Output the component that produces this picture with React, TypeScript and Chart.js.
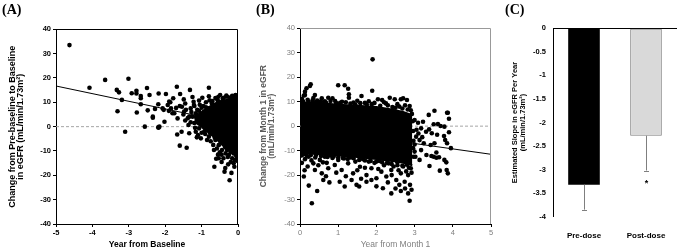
import React, { useEffect, useRef } from 'react';
import { Chart, registerables } from 'chart.js';
Chart.register(...registerables);

const FONT = "'Liberation Sans', Arial, Helvetica, sans-serif";

// ---------- Panel A data ----------
const aXTicks = [-5, -4, -3, -2, -1, 0];
const aYTicks = [-40, -30, -20, -10, 0, 10, 20, 30, 40];
const aPoints: number[][] = [
  [-4.63, 33.5], [-4.08, 16.0], [-3.65, 19.2], [-3.01, 19.7], [-3.33, 15.1], [-3.27, 14.1], [-3.19, 11.0],
  [-3.31, 6.3], [-3.1, -2.1], [-2.92, 13.7], [-2.79, 14.7], [-2.79, 13.6], [-2.67, 12.6], [-2.67, 11.7],
  [-2.5, 15.9], [-2.43, 13.0], [-2.78, 5.8], [-2.67, 9.2], [-2.48, 6.7], [-2.34, 3.7], [-2.56, 0.0],
  [-2.28, 7.3], [-2.18, 13.6], [-2.19, 9.2], [-2.19, -0.3], [-1.98, 13.4], [-2.04, 6.9], [-2.02, 2.0],
  [-1.86, 10.0], [-1.7, 7.7], [-1.68, 16.4], [-1.32, 15.1], [-0.8, 16.0], [-1.78, 11.7], [-1.59, 13.4],
  [-1.89, 10.3], [-1.49, 11.2], [-1.25, 12.2], [-0.98, 11.9], [-0.8, 12.5], [-1.07, 10.7], [-0.54, 12.3],
  [-0.49, 13.0], [-2.34, 4.1], [-1.66, 3.4], [-1.43, 6.9], [-1.34, 4.1], [-2.16, 0.0], [-1.36, 0.7],
  [-1.16, -2.1], [-1.6, -7.8], [-1.41, -8.7], [-1.67, -3.2], [-1.55, -2.1], [-1.34, -2.7], [-1.13, -4.4],
  [-1.02, -4.8], [-0.66, -9.6], [-0.65, -16.5], [-0.53, -13.0], [-0.6, -13.2], [-0.37, -18.5], [-0.23, -22.0],
  [-0.1, -16.5], [-2.18, -0.4], [-2.07, 7.5], [-1.93, 8.9], [-1.84, 7.5], [-1.8, 5.5], [-1.54, 8.2],
  [-1.48, 6.2], [-1.3, 7.5], [-1.21, 8.9], [-1.12, 6.9],
  [-0.57, 11.2], [-0.48, 10.0], [-0.39, 11.9], [-0.16, 12.7], [-0.09, 12.3], [-0.05, 11.9], [-0.66, 8.9],
  [-0.8, 7.5], [-0.93, 6.2], [-1.07, 6.5], [-1.16, 5.5], [-1.25, 4.1], [-1.07, -0.7], [-0.93, -2.1],
  [-0.8, -4.1], [-0.62, -5.5], [-0.53, -7.6], [-0.44, -9.6], [-0.34, -11.0], [-0.25, -11.7], [-0.16, -13.0],
  [-0.09, -13.7], [-0.3, -9.6], [-0.02, -12.5], [-0.02, 12.0], [-0.05, -12.0], [-1.2, 1.5], [-1.1, 3.0],
  [-0.95, 8.5], [-0.7, 10.5], [-0.3, 12.3], [-0.2, -10.5], [-0.7, -3.0], [-1.0, -2.5], [-0.85, -5.5],
  [-0.45, -11.5], [-0.12, -11.0], [-1.45, 2.5], [-1.5, 5.0], [-1.6, 8.5], [-1.75, 5.5], [-1.9, 6.5],
  [-1.2, 8.5], [-1.05, 9.0], [-0.88, 10.0], [-0.62, 11.8], [-0.25, 9.0], [-0.05, -8.0], [-0.08, 10.0],
  [-1.45, 9.5], [-1.38, 3.5], [-1.28, 6.0], [-1.22, 10.2], [-1.18, -0.5], [-1.1, -3.5], [-1.05, 2.0],
  [-0.98, 4.2], [-0.92, -0.5], [-0.88, 8.0], [-0.82, -1.5], [-0.78, 10.8], [-0.75, -6.0], [-0.72, 9.5],
  [-0.68, -7.5], [-0.64, -4.5], [-0.58, -9.0], [-0.55, 10.5], [-0.5, -10.5], [-0.47, -6.5], [-0.42, 11.5],
  [-0.4, -13.0], [-0.35, -8.5], [-0.32, 12.8], [-0.28, -12.5], [-0.22, 12.0], [-0.2, -14.5], [-0.14, 11.8],
  [-0.12, -15.0], [-0.07, 13.0], [-0.03, -14.0], [-0.03, 12.8], [-0.27, -15.5], [-0.45, -14.5],
  [-0.55, -11.5], [-0.35, -17.0], [-0.18, -19.0], [-0.07, -11.0], [-1.3, 1.8], [-1.15, 4.0], [-1.0, 7.8],
  [-0.85, 2.5], [-0.9, -3.0], [-0.76, -2.8], [-0.7, 5.5], [-0.6, 7.0],
];
const aCloudTop: number[][] = [
  [-1.2, 4.0], [-1.0, 6.0], [-0.8, 8.0], [-0.6, 9.8], [-0.4, 10.8], [-0.2, 11.3], [0, 11.5],
];
const aCloudBottom: number[][] = [
  [-1.2, 2.0], [-1.0, 0.0], [-0.8, -2.5], [-0.6, -5.0], [-0.4, -8.0], [-0.2, -10.5], [0, -12.0],
];
const aFit: number[][] = [[-5, 16.7], [0, 1.0]];
const aZero: number[][] = [[-5, 0], [0, 0]];

// ---------- Panel B data ----------
const bXTicks = [0, 1, 2, 3, 4, 5];
const bYTicks = [-40, -30, -20, -10, 0, 10, 20, 30, 40];
const bPoints: number[][] = [
  // upper edge and outliers
  [0.05, 11.2], [0.1, 12.5], [0.13, 14.1], [0.17, 15.5], [0.26, 16.4], [0.13, 12.7], [0.2, 10.8], [0.28, 17.1],
  [0.35, 11.5], [0.39, 12.7], [0.45, 10.5], [0.57, 11.4], [0.65, 10.2], [0.74, 11.6], [0.85, 11.4], [0.92, 10.3],
  [1.0, 16.7], [1.17, 16.7], [1.26, 15.3], [1.28, 13.0], [1.28, 11.6], [1.1, 10.0], [1.2, 9.8], [1.4, 9.6],
  [1.5, 10.4], [1.61, 12.3], [1.7, 9.5], [1.8, 10.2], [1.89, 14.5], [1.9, 27.3], [1.95, 9.5], [2.04, 11.0],
  [2.15, 10.7], [2.25, 9.3], [2.35, 11.6], [2.48, 11.0], [2.55, 9.0], [2.64, 11.0], [2.7, 11.4], [2.8, 10.7],
  [2.87, 8.2], [2.75, 8.5], [2.9, 6.5], [2.6, 8.0], [2.3, 8.5], [0.5, 10.0],
  [0.08, 10.2], [0.22, 10.0], [0.33, 10.6], [0.42, 9.8], [0.55, 10.1], [0.68, 9.6], [0.8, 10.3], [0.95, 9.4],
  [1.05, 9.5], [1.32, 9.2], [1.45, 8.8], [1.58, 9.4], [1.75, 8.7], [1.88, 9.0], [2.1, 8.3], [2.2, 9.8],
  [2.42, 7.8], [2.5, 7.5], [2.68, 7.2], [2.82, 6.8], [2.93, 5.0], [2.95, 2.0], [2.96, -2.0], [2.97, -6.0],
  [2.96, -9.0], [2.97, -12.5],
  // right tail
  [3.52, 6.3], [3.85, 5.5], [3.87, 5.5], [3.37, 4.6], [3.22, 1.8], [3.09, 1.4], [3.5, 0.8], [3.61, 0.9],
  [3.68, 0.06], [3.78, -0.2], [3.38, -1.3], [3.17, -0.9], [3.3, -2.3], [3.45, -2.9], [3.59, -3.5], [3.77, -4.0],
  [3.8, -5.7], [3.85, -7.0], [3.52, -7.0], [3.42, -7.7], [3.24, -7.0], [3.13, -5.7], [3.04, -4.3], [3.17, -9.8],
  [3.31, -11.8], [3.44, -12.2], [3.5, -12.5], [3.57, -12.9], [3.64, -12.7], [3.57, -10.8], [3.78, -13.8],
  [3.83, -14.8], [3.39, -16.3], [3.66, -18.2], [3.84, -17.9], [3.87, -19.3], [3.0, -10.4], [3.02, -12.5],
  [3.13, -13.8], [3.0, 2.5], [3.05, -1.5], [3.1, -3.0], [3.0, -7.5], [3.2, -4.5], [3.9, -2.5], [3.95, -9.0],
  [3.9, 3.0],
  // lower edge and outliers
  [0.05, -11.8], [0.18, -12.2], [0.28, -11.9], [0.4, -12.8], [0.55, -12.2], [0.72, -12.6], [0.88, -12.4],
  [1.0, -12.8], [1.12, -13.0], [1.25, -13.4], [1.4, -13.1], [1.55, -13.8], [1.7, -14.0], [1.85, -14.2],
  [2.0, -14.5], [2.15, -14.8], [2.28, -15.0], [2.4, -15.5], [2.55, -16.0], [2.68, -16.2], [2.85, -17.0],
  [0.04, -12.0], [0.1, -20.6], [0.13, -13.5], [0.22, -12.5], [0.23, -24.3], [0.31, -31.5], [0.35, -15.2],
  [0.39, -17.9], [0.45, -26.5], [0.52, -13.8], [0.57, -19.3], [0.61, -22.0], [0.65, -12.5], [0.74, -17.2],
  [0.77, -23.0], [0.85, -13.0], [0.91, -15.9], [1.04, -22.7], [1.09, -17.9], [1.15, -13.2], [1.17, -24.7],
  [1.26, -15.2], [1.32, -12.8], [1.39, -19.3], [1.48, -24.0], [1.55, -24.7], [1.57, -16.6], [1.65, -13.5],
  [1.74, -20.0], [1.74, -22.7], [1.8, -14.5], [1.87, -17.2], [1.87, -22.0], [1.95, -15.0], [2.0, -21.3],
  [2.0, -24.6], [2.08, -14.2], [2.13, -18.6], [2.17, -25.4], [2.2, -16.0], [2.26, -20.6], [2.32, -15.2],
  [2.39, -17.9], [2.39, -27.5], [2.45, -16.5], [2.52, -22.0], [2.58, -18.0], [2.64, -19.3], [2.64, -26.5],
  [2.7, -16.5], [2.74, -22.7], [2.78, -18.5], [2.83, -20.0], [2.83, -27.5], [2.87, -30.5], [2.9, -17.2],
  [2.88, -24.0], [0.2, -16.5], [0.3, -14.0], [0.48, -16.0], [0.6, -14.8], [0.7, -15.0], [0.95, -19.0],
  [1.0, -13.8], [1.2, -20.5], [1.45, -14.5], [1.5, -18.0], [1.6, -21.5], [1.7, -17.0], [2.05, -17.5],
  [2.3, -23.0], [2.55, -14.8], [2.6, -24.0], [2.8, -15.8], [0.05, -15.0], [0.15, -11.5], [0.42, -11.8],
  [0.8, -12.0], [2.92, -19.0], [2.92, -26.0], [2.75, -25.5], [2.5, -25.5], [2.4, -20.0], [1.35, -22.0],
  [0.68, -20.5], [0.12, -18.0],
];
const bCloudTop: number[][] = [
  [0.01, 9.5], [0.3, 9.8], [0.6, 9.4], [1.0, 8.8], [1.5, 8.3], [2.0, 7.8], [2.4, 6.8], [2.7, 5.8], [2.94, 4.5],
];
const bCloudBottom: number[][] = [
  [0.01, -11.0], [0.3, -11.3], [0.6, -11.5], [1.0, -12.0], [1.5, -12.6], [2.0, -13.4], [2.4, -14.2], [2.7, -15.0], [2.94, -16.0],
];
const bFit: number[][] = [[0, -0.5], [5, -11.5]];
const bZero: number[][] = [[0, 0], [5, 0]];

// ---------- Panel C data ----------
const cCategories = ['Pre-dose', 'Post-dose'];
const cSlopes = [-3.32, -2.28];
const cErrLow = [-3.85, -3.02];
const cSignif = ['', '*'];
const cYTicks = [0, -0.5, -1, -1.5, -2, -2.5, -3, -3.5, -4];

const xy = (arr: number[][]) => arr.map(([x, y]) => ({ x, y }));

const framePlugin = (color: string) => ({
  id: 'frame',
  afterDatasetsDraw(chart: any) {
    const { ctx, chartArea } = chart;
    const { left, top, right, bottom } = chartArea;
    ctx.save();
    ctx.strokeStyle = color;
    ctx.lineWidth = 1;
    ctx.beginPath();
    ctx.moveTo(Math.round(left), Math.round(top) + 0.5);
    ctx.lineTo(Math.round(right) - 0.5, Math.round(top) + 0.5);
    ctx.lineTo(Math.round(right) - 0.5, Math.round(bottom));
    ctx.stroke();
    ctx.restore();
  },
});

function scatterConfig(opts: any) {
  const {
    points, cloudTop, cloudBottom, fit, zero, xTicks, yTicks, xMin, xMax,
    yTitle, xTitle, tickColor, titleColor, yTitleColor, tickWeight, xTitleWeight,
    yWidth, yTitlePad, padTop, padRight, frameColor, yTitleSize, yTitleLH,
  } = opts;
  return {
    type: 'line',
    data: {
      datasets: [
        { data: xy(zero), borderColor: '#a6a6a6', borderWidth: 1, borderDash: [3, 2], pointRadius: 0, fill: false, order: 6 },
        { data: xy(fit), borderColor: '#000', borderWidth: 1, pointRadius: 0, fill: false, order: 5 },
        { data: xy(cloudTop), borderColor: '#000', backgroundColor: '#000', borderWidth: 2, pointRadius: 0, fill: '+1', order: 4 },
        { data: xy(cloudBottom), borderColor: '#000', borderWidth: 2, pointRadius: 0, fill: false, order: 3 },
        { data: xy(points), showLine: false, pointRadius: 2.3, pointBorderWidth: 0, pointBackgroundColor: '#000', pointStyle: 'circle', order: 1 },
      ],
    },
    options: {
      responsive: false,
      animation: false,
      events: [],
      layout: { padding: { top: padTop, right: padRight, left: 0, bottom: 0 } },
      plugins: { legend: { display: false }, tooltip: { enabled: false } },
      elements: { line: { tension: 0 } },
      scales: {
        x: {
          type: 'linear', min: xMin, max: xMax,
          afterBuildTicks: (s: any) => { s.ticks = xTicks.map((v: number) => ({ value: v })); },
          ticks: { color: tickColor, font: { family: FONT, size: 7.5, weight: tickWeight }, padding: 1, maxRotation: 0, autoSkip: false },
          grid: { display: true, drawOnChartArea: false, drawTicks: true, tickLength: 3, color: '#000' },
          border: { display: true, color: '#000', width: 1 },
          title: { display: true, text: xTitle, color: titleColor, font: { family: FONT, size: 8.5, weight: xTitleWeight }, padding: { top: 0, bottom: 2 } },
          afterFit: (s: any) => { s.height = 28; },
        },
        y: {
          type: 'linear', min: -40, max: 40,
          afterBuildTicks: (s: any) => { s.ticks = yTicks.map((v: number) => ({ value: v })); },
          ticks: { color: tickColor, font: { family: FONT, size: 7.5, weight: tickWeight }, padding: 2 },
          grid: { display: true, drawOnChartArea: false, drawTicks: true, tickLength: 3, color: '#000' },
          border: { display: true, color: '#000', width: 1 },
          title: { display: true, text: yTitle, color: yTitleColor, font: { family: FONT, size: yTitleSize, weight: 'bold', lineHeight: yTitleLH }, padding: { top: yTitlePad, bottom: 0 } },
          afterFit: (s: any) => { s.width = yWidth; },
        },
      },
    },
    plugins: [framePlugin(frameColor)],
  };
}

const errorBarPlugin = {
  id: 'errbars',
  afterDatasetsDraw(chart: any) {
    const { ctx } = chart;
    const meta = chart.getDatasetMeta(0);
    const y = chart.scales.y;
    ctx.save();
    meta.data.forEach((bar: any, i: number) => {
      const x = Math.round(bar.x) + 0.5;
      const y0 = y.getPixelForValue(cSlopes[i]);
      const y1 = y.getPixelForValue(cErrLow[i]);
      ctx.strokeStyle = '#7f7f7f';
      ctx.lineWidth = 1;
      ctx.beginPath();
      ctx.moveTo(x, y0);
      ctx.lineTo(x, y1);
      ctx.moveTo(x - 2.5, Math.round(y1) + 0.5);
      ctx.lineTo(x + 2.5, Math.round(y1) + 0.5);
      ctx.stroke();
      if (cSignif[i]) {
        ctx.fillStyle = '#000';
        ctx.font = `bold 9px ${FONT}`;
        ctx.textAlign = 'center';
        ctx.textBaseline = 'middle';
        ctx.fillText(cSignif[i], x, y1 + 13);
      }
    });
    ctx.restore();
  },
};

function barConfig() {
  return {
    type: 'bar',
    data: {
      labels: cCategories,
      datasets: [{
        data: cSlopes,
        backgroundColor: ['#000000', '#d9d9d9'],
        borderColor: ['#000000', '#7f7f7f'],
        borderWidth: [0, 1],
        borderSkipped: false,
        barPercentage: 0.51,
        categoryPercentage: 1,
      }],
    },
    options: {
      responsive: false,
      animation: false,
      events: [],
      layout: { padding: { top: 28.3, right: 0, left: 0, bottom: 0 } },
      plugins: { legend: { display: false }, tooltip: { enabled: false } },
      scales: {
        x: {
          grid: { display: false },
          border: { display: false },
          ticks: { color: '#000', font: { family: FONT, size: 8, weight: 'bold' }, padding: 6, maxRotation: 0 },
          afterFit: (s: any) => { s.height = 35.3; },
        },
        y: {
          min: -4, max: 0,
          afterBuildTicks: (s: any) => { s.ticks = cYTicks.map((v) => ({ value: v })); },
          ticks: { color: '#000', font: { family: FONT, size: 7.5, weight: 'bold' }, padding: 7, callback: (v: any) => String(v) },
          grid: { display: true, drawTicks: false, color: (c: any) => (c.tick && c.tick.value === 0 ? '#000' : 'rgba(0,0,0,0)'), lineWidth: 1 },
          border: { display: true, color: '#000', width: 1 },
          title: {
            display: true,
            text: ['Estimated Slope in eGFR Per Year', '(mL/min/1.73m\u00b2)'],
            color: '#000',
            font: { family: FONT, size: 7.5, weight: 'bold', lineHeight: 1.1 },
            padding: { top: 15.9, bottom: 0 },
          },
          afterFit: (s: any) => { s.width = 58; },
        },
      },
    },
    plugins: [errorBarPlugin],
  };
}

const panelLabel: React.CSSProperties = {
  position: 'absolute',
  top: 2,
  fontFamily: "'Liberation Serif', 'Times New Roman', serif",
  fontWeight: 'bold',
  fontSize: 14,
  lineHeight: '16px',
  color: '#000',
};

export default function App() {
  const refA = useRef<HTMLCanvasElement>(null);
  const refB = useRef<HTMLCanvasElement>(null);
  const refC = useRef<HTMLCanvasElement>(null);

  useEffect(() => {
    const charts: Chart[] = [];
    charts.push(new Chart(refA.current as HTMLCanvasElement, scatterConfig({
      points: aPoints, cloudTop: aCloudTop, cloudBottom: aCloudBottom, fit: aFit, zero: aZero,
      xTicks: aXTicks, yTicks: aYTicks, xMin: -5, xMax: 0,
      yTitle: ['Change from Pre-baseline to Baseline', 'in eGFR (mL/min/1.73m\u00b2)'],
      xTitle: 'Year from Baseline', tickColor: '#000', titleColor: '#000', yTitleColor: '#000',
      tickWeight: 'bold', xTitleWeight: 'bold', yWidth: 56, yTitlePad: 8.6, padTop: 29.3, padRight: 2.7,
      frameColor: '#000', yTitleSize: 9, yTitleLH: 0.9,
    }) as any));
    charts.push(new Chart(refB.current as HTMLCanvasElement, scatterConfig({
      points: bPoints, cloudTop: bCloudTop, cloudBottom: bCloudBottom, fit: bFit, zero: bZero,
      xTicks: bXTicks, yTicks: bYTicks, xMin: 0, xMax: 5,
      yTitle: ['Change from Month 1 in eGFR', '(mL/min/1.73m\u00b2)'],
      xTitle: 'Year from Month 1', tickColor: '#7f7f7f', titleColor: '#7f7f7f', yTitleColor: '#595959',
      tickWeight: 'normal', xTitleWeight: 'normal', yWidth: 55, yTitlePad: 14, padTop: 28.3, padRight: 3.3,
      frameColor: '#999999', yTitleSize: 8.5, yTitleLH: 1.0,
    }) as any));
    charts.push(new Chart(refC.current as HTMLCanvasElement, barConfig() as any));
    return () => { charts.forEach((c) => c.destroy()); };
  }, []);

  return (
    <div style={{ position: 'fixed', left: 0, top: 0, width: 677, height: 252, background: '#fff', overflow: 'hidden' }}>
      <canvas ref={refA} width={242} height={252} style={{ position: 'absolute', left: 0, top: 0 }} />
      <canvas ref={refB} width={250} height={252} style={{ position: 'absolute', left: 245, top: 0 }} />
      <canvas ref={refC} width={182} height={252} style={{ position: 'absolute', left: 495, top: 0 }} />
      <div style={{ ...panelLabel, left: 2 }}>(A)</div>
      <div style={{ ...panelLabel, left: 256 }}>(B)</div>
      <div style={{ ...panelLabel, left: 505 }}>(C)</div>
    </div>
  );
}
